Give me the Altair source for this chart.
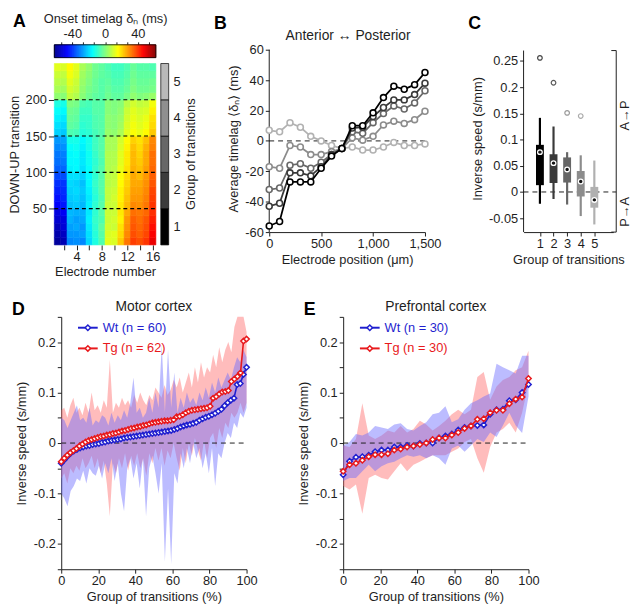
import altair as alt
import pandas as pd

FONT = "Liberation Sans"
INK = "#1e1e1e"
MINUS = "\u2212"

# ============================ DATA ============================
# ---- Panel A: onset timelag heat map (rows of 10 transitions, bottom -> top)
electrodes = list(range(1, 17))
transitions_per_row = 10
heat_rows = [
    [-60, -57, -30, -29, -30, -20, -12, -6, 12, 11, 22, 32, 39, 37, 40, 49],
    [-58, -55, -28, -28, -27, -19, -11, -5, 11, 12, 20, 30, 37, 35, 38, 47],
    [-56, -52, -27, -26, -28, -18, -10, -4, 10, 9, 19, 29, 36, 34, 37, 45],
    [-53, -51, -25, -27, -26, -17, -9, -6, 9, 10, 17, 28, 35, 33, 36, 43],
    [-51, -48, -24, -25, -25, -18, -10, -5, 9, 9, 18, 26, 33, 32, 34, 41],
    [-47, -44, -23, -22, -24, -17, -10, -5, 9, 9, 18, 24, 30, 29, 32, 40],
    [-45, -42, -22, -21, -23, -18, -11, -6, 8, 10, 17, 23, 28, 28, 31, 39],
    [-43, -41, -21, -20, -22, -17, -10, -5, 8, 9, 17, 22, 27, 27, 30, 38],
    [-41, -40, -20, -21, -23, -16, -9, -5, 7, 8, 16, 21, 26, 26, 29, 36],
    [-38, -37, -19, -19, -21, -16, -10, -5, 7, 8, 15, 20, 26, 24, 28, 35],
    [-35, -34, -17, -16, -19, -15, -9, -5, 6, 7, 13, 19, 25, 23, 27, 34],
    [-33, -32, -16, -16, -18, -14, -10, -6, 6, 6, 12, 18, 24, 22, 26, 33],
    [-32, -31, -16, -15, -18, -14, -9, -5, 6, 6, 12, 18, 24, 21, 26, 33],
    [-30, -29, -15, -14, -17, -13, -8, -5, 5, 5, 11, 17, 23, 20, 25, 31],
    [-28, -27, -13, -13, -16, -13, -8, -5, 5, 5, 10, 16, 21, 19, 23, 30],
    [-21, -22, -6, -7, -11, -10, -7, -5, 3, 2, 5, 12, 15, 13, 16, 22],
    [-19, -20, -4, -5, -10, -9, -6, -5, 2, 1, 4, 11, 14, 12, 14, 20],
    [-17, -18, -3, -4, -9, -9, -6, -5, 2, 1, 3, 10, 13, 11, 13, 19],
    [-15, -16, -2, -3, -8, -8, -5, -5, 1, 0, 2, 9, 12, 10, 11, 17],
    [-12, -13, 0, -1, -6, -7, -5, -5, 1, 0, 1, 7, 10, 8, 9, 14],
    [2, 1, 8, 6, 1, -2, -4, -5, -2, -4, -4, -1, 2, 0, 1, 3],
    [5, 4, 10, 8, 2, -1, -3, -5, -3, -5, -5, -3, 0, -2, -2, -1],
    [7, 6, 12, 9, 3, 0, -3, -5, -4, -6, -6, -4, -1, -3, -3, -2],
    [9, 8, 14, 11, 4, 1, -2, -4, -5, -7, -7, -5, -2, -4, -4, -4],
    [12, 11, 16, 12, 5, 2, -2, -4, -6, -8, -8, -6, -3, -5, -5, -6],
]
group_names = ["1", "2", "3", "4", "5"]
group_edges = [0, 50, 100, 150, 200, 250]
group_fills = ["#000000", "#3c3c3c", "#676767", "#8f8f8f", "#b9b9b9"]
jet_stops = [-62, -46.5, -15.5, 15.5, 46.5, 62]
jet_colors = ["#00008f", "#0000ff", "#00ffff", "#ffff00", "#ff0000", "#800000"]
colorbar_ticks = [-53.33, -40, -26.67, -13.33, 0, 13.33, 26.67, 40, 53.33]
heat_yticks = [50, 100, 150, 200]
heat_xticks = [2, 4, 6, 8, 10, 12, 14, 16]

# ---- Panel B: average timelag per group
electrode_pos = [0, 100, 200, 300, 400, 500, 600, 700, 800, 900, 1000, 1100, 1200, 1300, 1400, 1500]
lag_by_group = {
    "1": [-56, -53, -27, -27, -27, -18, -10, -5, 10, 10, 18.5, 28.5, 36, 34, 37, 45],
    "2": [-43, -41, -21, -21, -23, -17, -9, -5, 8.5, 9, 16, 22, 27, 27, 30.5, 38],
    "3": [-32, -31, -16, -15, -18, -14, -9, -5, 6, 5, 12, 18, 23, 21, 25, 33],
    "4": [-17, -18, -3, -4, -9, -9, -7, -5, 2, 0.5, 3, 10.5, 13, 11.5, 14, 19.5],
    "5": [7, 6, 12, 9, 3, 0, -3, -5, -4, -6, -6, -4, -1, -3, -3, -2],
}
line_colors = {"1": "#000000", "2": "#3a3a3a", "3": "#686868", "4": "#8c8c8c", "5": "#b2b2b2"}
b_yticks = [-60, -40, -20, 0, 20, 40, 60]
b_xticks = [0, 500, 1000, 1500]

# ---- Panel C: box plots of inverse speed
box_groups = [1, 2, 3, 4, 5]
box_low = [-0.0225, -0.0134, -0.024, -0.046, -0.062]
box_q1 = [0.013, 0.017, 0.018, -0.0086, -0.030]
box_median = [0.076, 0.055, 0.043, 0.020, -0.0152]
box_q3 = [0.090, 0.072, 0.066, 0.040, 0.0097]
box_high = [0.1415, 0.125, 0.076, 0.070, 0.060]
box_colors = ["#000000", "#3a3a3a", "#666666", "#8c8c8c", "#b0b0b0"]
outlier_groups = [1, 2, 3, 4]
outlier_values = [0.256, 0.2085, 0.151, 0.145]
outlier_colors = ["#444444", "#5a5a5a", "#9a9a9a", "#aaaaaa"]
c_yticks = [-0.05, 0, 0.05, 0.1, 0.15, 0.2, 0.25]

# ---- Panel D: motor cortex
wt_motor = [-0.040, -0.033, -0.026, -0.020, -0.016, -0.013, -0.010, -0.008, -0.006, -0.005,
            -0.003, -0.002, -0.001, 0.001, 0.002, 0.004, 0.005, 0.006, 0.007, 0.008,
            0.010, 0.011, 0.012, 0.013, 0.014, 0.015, 0.016, 0.017, 0.018, 0.019,
            0.020, 0.021, 0.022, 0.023, 0.024, 0.025, 0.027, 0.029, 0.032, 0.034,
            0.036, 0.037, 0.039, 0.041, 0.045, 0.048, 0.051, 0.053, 0.056, 0.059,
            0.063, 0.067, 0.074, 0.080, 0.085, 0.089, 0.116, 0.118, 0.136, 0.150]
wt_motor_lo = [-0.100, -0.110, -0.125, -0.095, -0.085, -0.070, -0.075, -0.055, -0.080, -0.050,
               -0.060, -0.065, -0.045, -0.070, -0.040, -0.060, -0.030, -0.075, -0.040, -0.100,
               -0.135, -0.050, -0.030, -0.070, -0.040, -0.090, -0.030, -0.145, -0.050, -0.025,
               -0.060, -0.100, -0.040, -0.235, -0.090, -0.240, -0.060, -0.080, -0.020, -0.050,
               -0.010, -0.040, 0.000, -0.030, -0.010, -0.050, -0.020, -0.060, -0.010, -0.085,
               -0.020, -0.030, 0.000, 0.020, 0.010, 0.040, 0.030, 0.060, 0.050, 0.070]
wt_motor_hi = [0.050, 0.045, 0.030, 0.045, 0.060, 0.075, 0.045, 0.050, 0.040, 0.070,
               0.035, 0.045, 0.040, 0.055, 0.050, 0.035, 0.060, 0.040, 0.055, 0.045,
               0.065, 0.050, 0.080, 0.130, 0.060, 0.070, 0.050, 0.060, 0.090, 0.060,
               0.100, 0.070, 0.195, 0.060, 0.185, 0.070, 0.140, 0.060, 0.090, 0.070,
               0.100, 0.080, 0.090, 0.075, 0.100, 0.085, 0.110, 0.090, 0.120, 0.100,
               0.130, 0.110, 0.125, 0.140, 0.125, 0.150, 0.170, 0.160, 0.185, 0.170]
tg_motor = [-0.037, -0.030, -0.024, -0.019, -0.015, -0.011, -0.006, -0.002, 0.002, 0.005,
            0.007, 0.009, 0.011, 0.013, 0.014, 0.016, 0.017, 0.019, 0.020, 0.022,
            0.024, 0.025, 0.027, 0.029, 0.030, 0.032, 0.033, 0.035, 0.036, 0.038,
            0.040, 0.041, 0.042, 0.043, 0.044, 0.044, 0.045, 0.046, 0.052, 0.053,
            0.056, 0.060, 0.063, 0.065, 0.066, 0.067, 0.068, 0.069, 0.070, 0.073,
            0.089, 0.092, 0.097, 0.101, 0.102, 0.104, 0.122, 0.127, 0.132, 0.139,
            0.202, 0.206]
tg_motor_lo = [-0.070, -0.060, -0.080, -0.050, -0.060, -0.045, -0.055, -0.030, -0.050, -0.040,
               -0.025, -0.050, -0.030, -0.060, -0.035, -0.080, -0.145, -0.040, -0.060, -0.030,
               -0.050, -0.020, -0.055, -0.025, -0.045, -0.020, -0.050, -0.030, -0.065, -0.020,
               -0.040, -0.010, -0.035, -0.010, -0.045, -0.015, -0.030, 0.000, -0.030, -0.055,
               -0.010, -0.040, 0.000, -0.025, 0.010, -0.015, -0.035, 0.005, -0.030, 0.010,
               0.020, -0.010, 0.030, 0.010, 0.040, 0.030, 0.060, 0.050, 0.060, 0.080,
               0.060, 0.080]
tg_motor_hi = [0.065, 0.070, 0.050, 0.075, 0.090, 0.060, 0.070, 0.055, 0.080, 0.060,
               0.100, 0.065, 0.075, 0.060, 0.085, 0.070, 0.165, 0.060, 0.080, 0.070,
               0.090, 0.075, 0.085, 0.070, 0.095, 0.080, 0.100, 0.085, 0.075, 0.095,
               0.085, 0.110, 0.100, 0.090, 0.115, 0.095, 0.105, 0.125, 0.110, 0.130,
               0.100, 0.120, 0.140, 0.110, 0.150, 0.120, 0.160, 0.130, 0.150, 0.140,
               0.175, 0.150, 0.190, 0.160, 0.185, 0.200, 0.180, 0.230, 0.250, 0.250,
               0.250, 0.220]

# ---- Panel E: prefrontal cortex
wt_pfc = [-0.063, -0.036, -0.028, -0.027, -0.024, -0.017, -0.014, -0.014, -0.008, -0.008,
          -0.005, -0.006, -0.001, 0.000, 0.000, 0.010, 0.014, 0.018, 0.026, 0.031,
          0.034, 0.035, 0.036, 0.057, 0.066, 0.067, 0.084, 0.086, 0.100, 0.116]
wt_pfc_lo = [-0.075, -0.069, -0.069, -0.056, -0.043, -0.056, -0.046, -0.040, -0.037, -0.030,
             -0.024, -0.027, -0.024, -0.030, -0.024, -0.030, -0.043, -0.011, -0.005, -0.017,
             -0.005, 0.008, 0.002, 0.021, 0.012, 0.035, 0.060, 0.035, 0.020, 0.092]
wt_pfc_hi = [-0.005, 0.002, 0.018, 0.015, 0.021, 0.034, 0.031, 0.028, 0.037, 0.039,
             0.028, 0.025, 0.034, 0.041, 0.057, 0.060, 0.073, 0.041, 0.047, 0.066,
             0.079, 0.085, 0.092, 0.098, 0.157, 0.150, 0.144, 0.138, 0.173, 0.173]
tg_pfc = [-0.056, -0.043, -0.040, -0.034, -0.027, -0.023, -0.023, -0.021, -0.014, -0.012,
          -0.008, -0.006, -0.003, 0.000, 0.007, 0.010, 0.010, 0.016, 0.021, 0.029,
          0.034, 0.047, 0.048, 0.060, 0.065, 0.065, 0.078, 0.087, 0.091, 0.128]
tg_pfc_lo = [-0.085, -0.092, -0.082, -0.140, -0.069, -0.063, -0.069, -0.072, -0.056, -0.040,
             -0.056, -0.043, -0.037, -0.030, -0.024, -0.024, -0.024, -0.017, -0.011, 0.002,
             0.008, -0.030, -0.059, -0.008, 0.021, 0.028, 0.040, 0.021, 0.060, 0.118]
tg_pfc_hi = [-0.005, -0.008, 0.008, 0.079, 0.015, 0.008, 0.015, 0.025, 0.021, 0.034,
             0.021, 0.028, 0.044, 0.037, 0.025, 0.034, 0.044, 0.057, 0.066, 0.057,
             0.066, 0.131, 0.141, 0.086, 0.112, 0.125, 0.131, 0.144, 0.150, 0.183]
de_yticks = [-0.25, -0.2, -0.15, -0.1, -0.05, 0, 0.05, 0.1, 0.15, 0.2, 0.25]
de_xticks = [0, 20, 40, 60, 80, 100]

WT_COLOR, TG_COLOR = "#1f1fcf", "#e8191c"
WT_BAND, TG_BAND = "#6a6aff", "#ff6a6a"

# ============================ HELPERS ============================
one = pd.DataFrame({"k": [0]})


def row(**kw):
    return pd.DataFrame({k: [v] for k, v in kw.items()})


def letter(ch, x, y):
    return alt.Chart(one).mark_text(text=ch, fontSize=18, fontWeight="bold", align="left",
                                    baseline="top", color="black").encode(x=alt.value(x), y=alt.value(y))


def spacer(w):
    return alt.Chart(one).mark_point(opacity=0, size=1).encode(
        x=alt.X("k:Q", axis=None), y=alt.Y("k:Q", axis=None)).properties(width=w, height=10)


# ============================ PANEL A ============================
WA, HA, HEAT_TOP = 103, 203, 19
ya_max = 250 * HA / (HA - HEAT_TOP)
jet = alt.Scale(type="linear", domain=jet_stops, range=jet_colors, interpolate="rgb", clamp=True)

heat_rec = []
for r, hrow in enumerate(heat_rows):
    for e, v in zip(electrodes, hrow):
        heat_rec.append({"x0": e - 0.5, "x1": e + 0.5, "y0": r * transitions_per_row,
                         "y1": (r + 1) * transitions_per_row, "v": v})
heat_df = pd.DataFrame(heat_rec)


def ay(field):
    return alt.Y(f"{field}:Q", scale=alt.Scale(domain=[0, ya_max], nice=False, zero=False),
                 axis=alt.Axis(values=heat_yticks, title="DOWN-UP transition", domain=False, tickSize=6,
                               labelPadding=2, titlePadding=4, titleY=HEAT_TOP + (HA - HEAT_TOP) / 2,
                               labelOverlap=False))


heat = alt.Chart(heat_df).mark_rect(strokeWidth=0.6).encode(
    x=alt.X("x0:Q", scale=alt.Scale(domain=[0.5, 16.5], nice=False, zero=False),
            axis=alt.Axis(values=heat_xticks, labelExpr="datum.value % 4 == 0 ? datum.label : ''",
                          title="Electrode number", domain=False, tickSize=5, labelPadding=1, titlePadding=2,
                          labelOverlap=False)),
    x2="x1:Q", y=ay("y0"), y2="y1:Q",
    color=alt.Color("v:Q", scale=jet, legend=None),
    stroke=alt.Stroke("v:Q", scale=jet, legend=None),
)
sep = alt.Chart(pd.DataFrame({"yv": heat_yticks})).mark_rule(
    strokeDash=[4, 3], color="black", strokeWidth=1.1).encode(y=ay("yv"), x=alt.value(0), x2=alt.value(WA))

cbar = alt.Chart(alt.sequence(-62, 62, 1, as_="cv")).transform_calculate(cv2="datum.cv + 1").mark_rect(
    strokeWidth=0.6).encode(
    x=alt.X("cv:Q", scale=alt.Scale(domain=[-62, 62], nice=False, zero=False),
            axis=alt.Axis(orient="top", values=colorbar_ticks,
                          labelExpr=f"abs(datum.value) % 40 < 0.5 ? replace(format(datum.value, '.0f'), '{MINUS}', '-') : ''",
                          title="Onset timelag \u03b4\u2099 (ms)", domain=False, tickSize=3, labelPadding=1,
                          titlePadding=3, labelFlush=False, labelOverlap=False)),
    x2="cv2:Q", y=alt.value(0), y2=alt.value(13),
    color=alt.Color("cv:Q", scale=jet, legend=None),
    stroke=alt.Stroke("cv:Q", scale=jet, legend=None),
)
cbar_border = alt.Chart(one).mark_rect(fillOpacity=0, stroke="black", strokeWidth=0.8).encode(
    x=alt.value(0), x2=alt.value(WA), y=alt.value(0), y2=alt.value(13))

gdf = pd.DataFrame({"gs": group_edges[:-1], "ge": group_edges[1:],
                    "gm": [(a + b) / 2 for a, b in zip(group_edges[:-1], group_edges[1:])],
                    "gl": group_names, "gc": group_fills})
gray = alt.Chart(gdf).mark_rect(stroke="black", strokeWidth=0.7).encode(
    x=alt.value(WA + 5), x2=alt.value(WA + 13), y=ay("gs"), y2="ge:Q", fill=alt.Fill("gc:N", scale=None))
glab = alt.Chart(gdf).mark_text(align="left", baseline="middle", fontSize=13, color=INK).encode(
    x=alt.value(WA + 18), y=ay("gm"), text="gl:N")
gtitle = alt.Chart(one).mark_text(text="Group of transitions", angle=270, fontSize=13, color=INK,
                                  baseline="middle").encode(
    x=alt.value(WA + 36), y=alt.value(HEAT_TOP + (HA - HEAT_TOP) / 2))

panel_a = alt.layer(heat, sep, cbar, cbar_border, gray, glab, gtitle, letter("A", -42, -32)).resolve_scale(
    x="independent").properties(width=WA, height=HA)

# ============================ PANEL B ============================
WB, HB = 158, 190
yb_top = 60 + 5 * 120 / (HB - 5)


def bx(field):
    return alt.X(f"{field}:Q", scale=alt.Scale(domain=[0, 1500], nice=False, zero=False),
                 axis=alt.Axis(values=b_xticks, format=",d", title="Electrode position (\u03bcm)", tickSize=4,
                               labelPadding=2, titlePadding=3, labelFlush=False, labelOverlap=False))


def by(field):
    return alt.Y(f"{field}:Q", scale=alt.Scale(domain=[-60, yb_top], nice=False, zero=False),
                 axis=alt.Axis(values=b_yticks, labelExpr=f"replace(format(datum.value, 'd'), '{MINUS}', '-')",
                               domain=False, title="Average timelag \u27e8\u03b4\u2099\u27e9 (ms)", tickSize=4,
                               labelPadding=2, titlePadding=4, labelOverlap=False))


b_layers = [
    alt.Chart(row(x0=0, x1=1500, z=0)).mark_rule(strokeDash=[5, 4], color=INK, strokeWidth=1).encode(
        x=bx("x0"), x2="x1:Q", y=by("z")),
    alt.Chart(row(x0=0, y0=-60, y1=60)).mark_rule(color=INK, strokeWidth=1).encode(
        x=bx("x0"), y=by("y0"), y2="y1:Q"),
]
for g in ["5", "4", "3", "2", "1"]:
    dfg = pd.DataFrame({"pos": electrode_pos, "lag": lag_by_group[g]})
    c = line_colors[g]
    b_layers.append(alt.Chart(dfg).mark_line(color=c, strokeWidth=1.8).encode(x=bx("pos"), y=by("lag")))
    b_layers.append(alt.Chart(dfg).mark_point(shape="circle", filled=True, fill="white", stroke=c,
                                              strokeWidth=1.6, size=36, opacity=1).encode(x=bx("pos"), y=by("lag")))
b_layers.append(alt.Chart(one).mark_text(text="Anterior \u2194 Posterior", fontSize=14, color=INK,
                                         baseline="middle").encode(x=alt.value(80), y=alt.value(-9)))
b_layers.append(letter("B", -56, -30))
panel_b = alt.layer(*b_layers).properties(width=WB, height=HB)

# ============================ PANEL C ============================
WC, HC = 91, 190
yc_lo, yc_axis_top, yc_hi = -0.0766, 0.27, 0.281


def cx(field):
    return alt.X(f"{field}:Q", scale=alt.Scale(domain=[0.16, 6.03], nice=False, zero=False),
                 axis=alt.Axis(values=box_groups, format="d", title="Group of transitions", tickSize=4,
                               labelPadding=2, titlePadding=3, labelFlush=False, labelOverlap=False))


def cy(field):
    return alt.Y(f"{field}:Q", scale=alt.Scale(domain=[yc_lo, yc_hi], nice=False, zero=False),
                 axis=alt.Axis(values=c_yticks, labelExpr=f"replace(format(datum.value, '~g'), '{MINUS}', '-')",
                               domain=False, title="Inverse speed (s/mm)", tickSize=4, labelPadding=2,
                               titlePadding=4, labelOverlap=False))


box_df = pd.DataFrame({"g": box_groups, "lo": box_low, "q1": box_q1, "med": box_median, "q3": box_q3,
                       "hi": box_high, "col": box_colors})
out_df = pd.DataFrame({"g": outlier_groups, "v": outlier_values, "col": outlier_colors})
span = row(y0=yc_lo, y1=yc_axis_top)
c_layers = [
    alt.Chart(row(z=0)).mark_rule(strokeDash=[5, 4], color=INK, strokeWidth=1).encode(
        x=alt.value(0), x2=alt.value(WC + 3), y=cy("z")),
    alt.Chart(span).mark_rule(color=INK, strokeWidth=1).encode(x=alt.value(0), y=cy("y0"), y2="y1:Q"),
    alt.Chart(box_df).mark_rule(strokeWidth=2.2).encode(x=cx("g"), y=cy("lo"), y2="hi:Q",
                                                        color=alt.Color("col:N", scale=None)),
    alt.Chart(box_df).mark_bar(size=8).encode(x=cx("g"), y=cy("q1"), y2="q3:Q",
                                              color=alt.Color("col:N", scale=None)),
    alt.Chart(box_df).mark_point(shape="circle", filled=True, fill="#151515", stroke="white", strokeWidth=1.3,
                                 size=22, opacity=1).encode(x=cx("g"), y=cy("med")),
    alt.Chart(out_df).mark_point(shape="circle", filled=False, size=22, strokeWidth=1.2, opacity=1).encode(
        x=cx("g"), y=cy("v"), color=alt.Color("col:N", scale=None)),
    # direction bracket
    alt.Chart(span).mark_rule(color=INK, strokeWidth=1).encode(x=alt.value(WC + 3), y=cy("y0"), y2="y1:Q"),
    alt.Chart(span).mark_rule(color=INK, strokeWidth=1).encode(
        x=alt.value(WC - 2), x2=alt.value(WC + 3), y=cy("y1")),
    alt.Chart(span).mark_rule(color=INK, strokeWidth=1).encode(
        x=alt.value(WC - 2), x2=alt.value(WC + 3), y=cy("y0")),
    alt.Chart(row(ty=0.146)).mark_text(text="A\u2192P", angle=270, fontSize=13, color=INK,
                                       baseline="middle").encode(x=alt.value(WC + 12), y=cy("ty")),
    alt.Chart(row(ty=-0.038)).mark_text(text="P\u2192A", angle=270, fontSize=13, color=INK,
                                        baseline="middle").encode(x=alt.value(WC + 12), y=cy("ty")),
    letter("C", -56, -30),
]
panel_c = alt.layer(*c_layers).properties(width=WC, height=HC)

# ============================ PANELS D, E ============================
WD, HD = 188, 256


def dx(field):
    return alt.X(f"{field}:Q", scale=alt.Scale(domain=[0, 100], nice=False, zero=False),
                 axis=alt.Axis(values=de_xticks, title="Group of transitions (%)", tickSize=4, labelPadding=2,
                               titlePadding=3, labelFlush=False, labelOverlap=False))


def dy(field):
    return alt.Y(f"{field}:Q", scale=alt.Scale(domain=[-0.25, 0.25], nice=False, zero=False),
                 axis=alt.Axis(values=de_yticks,
                               labelExpr=f"abs(round(datum.value * 20)) % 2 == 0 ? replace(format(datum.value, '~g'), '{MINUS}', '-') : ''",
                               title="Inverse speed (s/mm)", tickSize=4, labelPadding=2, titlePadding=5,
                               labelFlush=False, labelOverlap=False))


def cortex_panel(title, ch, ch_x, wt, wt_lo, wt_hi, tg, tg_lo, tg_hi):
    wt_df = pd.DataFrame({"pct": [100 * i / (len(wt) - 1) for i in range(len(wt))],
                          "val": wt, "lo": wt_lo, "hi": wt_hi})
    tg_df = pd.DataFrame({"pct": [100 * i / (len(tg) - 1) for i in range(len(tg))],
                          "val": tg, "lo": tg_lo, "hi": tg_hi})
    layers = [
        alt.Chart(tg_df).mark_area(color=TG_BAND, opacity=0.45).encode(x=dx("pct"), y=dy("lo"), y2="hi:Q"),
        alt.Chart(wt_df).mark_area(color=WT_BAND, opacity=0.45).encode(x=dx("pct"), y=dy("lo"), y2="hi:Q"),
        alt.Chart(row(x0=0, x1=100, z=0)).mark_rule(strokeDash=[5, 4], color=INK, strokeWidth=1).encode(
            x=dx("x0"), x2="x1:Q", y=dy("z")),
    ]
    for df, col in [(wt_df, WT_COLOR), (tg_df, TG_COLOR)]:
        layers.append(alt.Chart(df).mark_line(color=col, strokeWidth=1.6).encode(x=dx("pct"), y=dy("val")))
        layers.append(alt.Chart(df).mark_point(shape="diamond", filled=True, fill="white", stroke=col,
                                               strokeWidth=1.5, size=30, opacity=1).encode(x=dx("pct"), y=dy("val")))
    for k, (lab, col) in enumerate([(f"Wt (n = {len(wt)})", WT_COLOR), (f"Tg (n = {len(tg)})", TG_COLOR)]):
        yk = 11 + 21 * k
        layers.append(alt.Chart(one).mark_rule(color=col, strokeWidth=2).encode(
            x=alt.value(17), x2=alt.value(37), y=alt.value(yk)))
        layers.append(alt.Chart(one).mark_point(shape="diamond", filled=True, fill="white", stroke=col,
                                                strokeWidth=1.5, size=30, opacity=1).encode(
            x=alt.value(27), y=alt.value(yk)))
        layers.append(alt.Chart(one).mark_text(text=lab, color=col, fontSize=13, align="left",
                                               baseline="middle").encode(x=alt.value(42), y=alt.value(yk)))
    layers.append(alt.Chart(one).mark_text(text=title, fontSize=14, color=INK, baseline="middle").encode(
        x=alt.value(WD / 2), y=alt.value(-10)))
    layers.append(letter(ch, ch_x, -16))
    return alt.layer(*layers).properties(width=WD, height=HD)


panel_d = cortex_panel("Motor cortex", "D", -50, wt_motor, wt_motor_lo, wt_motor_hi,
                       tg_motor, tg_motor_lo, tg_motor_hi)
panel_e = cortex_panel("Prefrontal cortex", "E", -40, wt_pfc, wt_pfc_lo, wt_pfc_hi,
                       tg_pfc, tg_pfc_lo, tg_pfc_hi)

# ============================ LAYOUT ============================
indep = dict(color="independent", fill="independent", stroke="independent")
top = alt.hconcat(panel_a, spacer(115), panel_b, spacer(100), panel_c, spacing=0,
                  bounds="flush").resolve_scale(**indep)
bottom = alt.hconcat(spacer(7), panel_d, spacer(98), panel_e, spacing=0, bounds="flush").resolve_scale(**indep)

chart = alt.vconcat(top, bottom, spacing=22).resolve_scale(**indep).properties(
    padding={"left": 0, "top": 0, "right": 0, "bottom": 0}
).configure(font=FONT).configure_view(stroke=None).configure_axis(
    labelFontSize=13, titleFontSize=13, titleFontWeight="normal", labelColor=INK, titleColor=INK,
    tickColor=INK, domainColor=INK, grid=False, tickWidth=1, domainWidth=1, labelFont=FONT, titleFont=FONT,
    labelOverlap=False
)

chart.save("out.html", embed_options={"renderer": "svg", "actions": False})
